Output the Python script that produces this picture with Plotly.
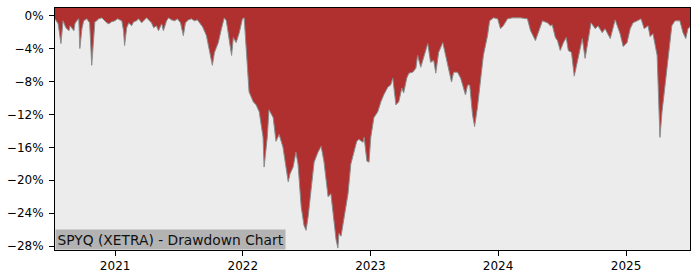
import plotly.graph_objects as go

dates = [
    "2020-07-13", "2020-07-22", "2020-07-30", "2020-08-05", "2020-08-13", "2020-08-22", "2020-08-25",
    "2020-09-05", "2020-09-08", "2020-09-13", "2020-09-19", "2020-09-22", "2020-09-28", "2020-10-03",
    "2020-10-12", "2020-10-20", "2020-10-26", "2020-11-01", "2020-11-04", "2020-11-09", "2020-11-15",
    "2020-11-24", "2020-11-29", "2020-12-08", "2020-12-14", "2020-12-22", "2020-12-31",
    "2021-01-08", "2021-01-20", "2021-01-25", "2021-01-28", "2021-02-03", "2021-02-09", "2021-02-17",
    "2021-02-23", "2021-03-03", "2021-03-09", "2021-03-18", "2021-03-26", "2021-04-01", "2021-04-09",
    "2021-04-15", "2021-04-21", "2021-04-29", "2021-05-05", "2021-05-14", "2021-05-19", "2021-05-28",
    "2021-06-03", "2021-06-11", "2021-06-20", "2021-06-28", "2021-07-07", "2021-07-15", "2021-07-21",
    "2021-07-30", "2021-08-07", "2021-08-16", "2021-08-24", "2021-08-30", "2021-09-08", "2021-09-19",
    "2021-09-25", "2021-10-01", "2021-10-06", "2021-10-12", "2021-10-23", "2021-11-01", "2021-11-09",
    "2021-11-15", "2021-11-21", "2021-11-30", "2021-12-05", "2021-12-13", "2021-12-22", "2021-12-31",
    "2022-01-05", "2022-01-11", "2022-01-19", "2022-01-31", "2022-02-08", "2022-02-17", "2022-02-28",
    "2022-03-03", "2022-03-12", "2022-03-17", "2022-03-29", "2022-04-06", "2022-04-15", "2022-04-26",
    "2022-05-02", "2022-05-11", "2022-05-16", "2022-05-25", "2022-06-02", "2022-06-08", "2022-06-17",
    "2022-06-25", "2022-07-01", "2022-07-07", "2022-07-15", "2022-07-24", "2022-08-04", "2022-08-13",
    "2022-08-21", "2022-09-02", "2022-09-10", "2022-09-19", "2022-09-25", "2022-09-30", "2022-10-03",
    "2022-10-09", "2022-10-17", "2022-10-29", "2022-11-06", "2022-11-15", "2022-11-23", "2022-11-29",
    "2022-12-11", "2022-12-14", "2022-12-22", "2022-12-28",
    "2023-01-02", "2023-01-11", "2023-01-22", "2023-01-31", "2023-02-08", "2023-02-20", "2023-02-28",
    "2023-03-06", "2023-03-15", "2023-03-23", "2023-04-01", "2023-04-06", "2023-04-15", "2023-04-21",
    "2023-05-02", "2023-05-11", "2023-05-16", "2023-05-25", "2023-06-02", "2023-06-14", "2023-06-22",
    "2023-07-01", "2023-07-07", "2023-07-15", "2023-07-27", "2023-08-04", "2023-08-13", "2023-08-21",
    "2023-08-27", "2023-09-07", "2023-09-16", "2023-09-24", "2023-09-30", "2023-10-06", "2023-10-12",
    "2023-10-20", "2023-10-26", "2023-11-03", "2023-11-12", "2023-11-20", "2023-12-02", "2023-12-08",
    "2023-12-19", "2023-12-31",
    "2024-01-08", "2024-01-16", "2024-01-28", "2024-02-11", "2024-03-05", "2024-03-25", "2024-04-03",
    "2024-04-17", "2024-04-25", "2024-05-07", "2024-05-21", "2024-05-30", "2024-06-04", "2024-06-13",
    "2024-06-19", "2024-06-24", "2024-06-27", "2024-07-06", "2024-07-14", "2024-07-20", "2024-07-29",
    "2024-08-06", "2024-08-14", "2024-08-23", "2024-08-29", "2024-09-06", "2024-09-15", "2024-09-23",
    "2024-10-05", "2024-10-13", "2024-10-25", "2024-11-02", "2024-11-17", "2024-12-01", "2024-12-10",
    "2024-12-15", "2024-12-24",
    "2025-01-04", "2025-01-13", "2025-01-21", "2025-02-02", "2025-02-13", "2025-02-22", "2025-03-05",
    "2025-03-11", "2025-03-19", "2025-03-31", "2025-04-02", "2025-04-08", "2025-04-14", "2025-04-22",
    "2025-05-01", "2025-05-12", "2025-05-21", "2025-06-04", "2025-06-13", "2025-06-21", "2025-06-27",
    "2025-07-03",
]

drawdown_pct = [
    -0.36, -0.96, -3.37, -0.60, -1.44, -1.80, -1.20,
    -1.80, -0.96, -0.60, -0.36, -3.97, -1.56, -0.60,
    -0.36, -0.84, -6.01, -2.04, -0.72, -0.60, -0.36,
    -0.24, -0.48, -0.84, -0.96, -0.72, -0.60,
    -0.36, -0.60, -1.80, -3.61, -1.44, -0.84, -1.20,
    -0.72, -0.60, -0.36, -0.84, -0.48, -0.24, -0.60,
    -0.84, -1.44, -1.20, -1.80, -0.96, -1.80, -0.60,
    -0.24, -0.48, -0.60, -0.36, -0.84, -2.40, -0.84,
    -0.48, -0.36, -0.60, -0.48, -0.84, -1.32, -2.40,
    -3.61, -4.81, -6.01, -4.45, -3.25, -1.56, -0.24,
    -0.60, -2.40, -4.81, -2.64, -3.25, -2.04, -0.36,
    -0.24, -3.61, -9.25, -10.46, -10.82, -11.66, -14.78,
    -18.39, -14.78, -11.42, -12.38, -15.26, -14.42, -15.99,
    -17.67, -20.19, -19.23, -18.39, -16.59, -18.03, -23.20,
    -25.48, -26.08, -24.40, -21.27, -17.79, -16.59, -15.87,
    -17.67, -22.00, -21.63, -24.88, -27.28, -28.25, -26.44,
    -26.80, -24.88, -21.63, -18.03, -16.47, -15.26, -15.02,
    -15.38, -14.78, -17.67, -17.79,
    -14.78, -12.38, -11.66, -10.46, -9.62, -8.65, -8.41,
    -7.57, -10.82, -10.46, -8.77, -9.38, -7.57, -6.97,
    -6.85, -6.37, -4.81, -6.25, -5.17, -3.37, -5.65,
    -5.41, -6.97, -4.45, -3.25, -4.81, -6.85, -8.05,
    -6.85, -6.85, -7.57, -8.65, -9.62, -8.41, -8.41,
    -12.02, -13.46, -11.18, -7.57, -4.81, -2.40, -0.60,
    -0.24, -0.36,
    -1.56, -1.20, -0.36, -0.24, -0.24, -0.36, -1.80,
    -3.00, -2.04, -0.60, -0.84, -1.20, -1.08, -2.64,
    -3.00, -3.97, -4.21, -3.25, -2.64, -4.21, -4.45,
    -7.33, -5.77, -3.85, -2.76, -5.17, -2.76, -0.84,
    -1.56, -1.20, -2.04, -1.56, -2.76, -0.48, -1.56,
    -2.16, -3.73,
    -3.25, -1.56, -0.84, -0.60, -0.36, -1.56, -1.20,
    -2.52, -2.16, -4.81, -6.85, -14.78, -11.66, -8.77,
    -4.81, -1.20, -0.60, -0.60, -2.04, -2.76, -1.56,
    -1.32,
]

y_tick_vals = [0, -4, -8, -12, -16, -20, -24, -28]
y_tick_text = ["0%", "\u22124%", "\u22128%", "\u221212%", "\u221216%", "\u221220%", "\u221224%", "\u221228%"]
x_tick_vals = ["2021-01-01", "2022-01-01", "2023-01-01", "2024-01-01", "2025-01-01"]
x_tick_text = ["2021", "2022", "2023", "2024", "2025"]
title_text = "SPYQ (XETRA) - Drawdown Chart"

y_top = 0.96
y_bottom = -28.48

fig = go.Figure()
fig.add_trace(go.Scatter(
    x=dates, y=[y_top] * len(dates), mode="lines",
    line=dict(width=0, color="rgba(0,0,0,0)"), hoverinfo="skip", showlegend=False,
))
fig.add_trace(go.Scatter(
    x=dates, y=drawdown_pct, mode="lines",
    line=dict(color="#8c8c8c", width=1),
    fill="tonexty", fillcolor="#b03030", showlegend=False,
))

axis_font = dict(family="DejaVu Sans", size=12, color="#000000")
fig.update_layout(
    width=700, height=280,
    margin=dict(l=53, r=10, t=7, b=28, pad=0),
    paper_bgcolor="#ffffff",
    plot_bgcolor="#ececec",
    showlegend=False,
    xaxis=dict(
        type="date", range=["2020-07-13", "2025-07-03"],
        tickvals=x_tick_vals, ticktext=x_tick_text,
        ticks="outside", ticklen=5, tickcolor="#000000", tickwidth=1,
        showline=True, linecolor="#000000", linewidth=1, mirror=True,
        showgrid=False, zeroline=False, tickfont=axis_font,
    ),
    yaxis=dict(
        range=[y_bottom, y_top],
        tickvals=y_tick_vals, ticktext=y_tick_text,
        ticks="outside", ticklen=5, tickcolor="#000000", tickwidth=1,
        ticklabelstandoff=3,
        showline=True, linecolor="#000000", linewidth=1, mirror=True,
        showgrid=False, zeroline=False, tickfont=axis_font,
    ),
    annotations=[dict(
        text=title_text, xref="paper", yref="paper", x=0, y=0,
        xanchor="left", yanchor="bottom", showarrow=False,
        font=dict(family="DejaVu Sans", size=13.8, color="#111111"),
        bgcolor="#b3b3b3", borderpad=1.5,
    )],
)

fig.write_html("out.html")
